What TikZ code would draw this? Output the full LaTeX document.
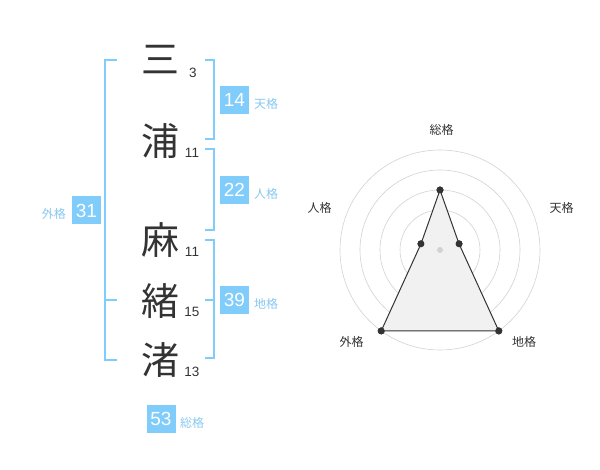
\documentclass[tikz,border=0pt]{standalone}
\usepackage{fontspec}
\setmainfont{Liberation Sans}
\newfontfamily\jpfont{Noto Sans CJK JP}
\definecolor{kakuBlue}{RGB}{128,204,250}
\definecolor{labelBlue}{RGB}{135,200,240}
\definecolor{darkGray}{RGB}{51,51,51}
\definecolor{ringGray}{RGB}{210,210,210}
\definecolor{fillGray}{RGB}{241,241,241}

\begin{document}
\begin{tikzpicture}[x=1pt,y=-1pt,
  kanji/.style={text=darkGray,inner sep=0,font=\jpfont\fontsize{38}{38}\selectfont},
  stroke/.style={text=darkGray,anchor=base,inner sep=0,font=\fontsize{13.5}{13.5}\selectfont},
  kakubox/.style={fill=kakuBlue,text=white,inner sep=0,minimum width=29pt,minimum height=28pt,font=\fontsize{19}{19}\selectfont},
  kakulabel/.style={text=labelBlue,inner sep=0,font=\jpfont\fontsize{12}{12}\selectfont},
  bracket/.style={draw=kakuBlue,line width=1.8pt},
  ring/.style={draw=ringGray,line width=0.6pt},
  dot/.style={circle,fill=darkGray,inner sep=0,minimum size=7pt},
  axislabel/.style={text=darkGray,inner sep=0,font=\jpfont\fontsize{12}{12}\selectfont}]
\useasboundingbox (0,0) rectangle (600,470);
% Name characters
\node[kanji] (c1) at (160,60) {三};
\node[kanji] (c2) at (160,141) {浦};
\node[kanji] (c3) at (160,240) {麻};
\node[kanji] (c4) at (160,301) {緒};
\node[kanji] (c5) at (160,360) {渚};
% Stroke counts
\node[stroke] (n1) at (193,78) {3};
\node[stroke] (n2) at (192,158) {11};
\node[stroke] (n3) at (192,257) {11};
\node[stroke] (n4) at (192,317) {15};
\node[stroke] (n5) at (192,377) {13};
% Brackets
\draw[bracket] (117,60) -- (105,60) -- (105,360) -- (117,360);
\draw[bracket] (105,300) -- (117,300);
\draw[bracket] (205,60) -- (214,60) -- (214,139) -- (205,139);
\draw[bracket] (205,149) -- (214,149) -- (214,230) -- (205,230);
\draw[bracket] (205,240) -- (214,240) -- (214,358) -- (205,358);
\draw[bracket] (205,300) -- (214,300);
% Fortune boxes
\node[kakubox] (ten) at (234.5,100) {14};
\node[kakulabel,anchor=west] at (254,103.5) {天格};
\node[kakubox] (jin) at (234.5,190) {22};
\node[kakulabel,anchor=west] at (254,193.5) {人格};
\node[kakubox] (gai) at (86.5,210.5) {31};
\node[kakulabel,anchor=east] at (66,213.5) {外格};
\node[kakubox] (chi) at (234.5,300) {39};
\node[kakulabel,anchor=west] at (254,303.5) {地格};
\node[kakubox] (sou) at (161,419) {53};
\node[kakulabel,anchor=west] at (180,422.5) {総格};
% Radar rings
\coordinate (ctr) at (440,250);
\foreach \r in {20,40,60,80,100}
  \draw[ring] (ctr) circle (\r pt);
% Radar values
\node[dot] (p1) at ([shift={(-90:60)}]ctr) {};
\node[dot] (p2) at ([shift={(-18:20)}]ctr) {};
\node[dot] (p3) at ([shift={(54:100)}]ctr) {};
\node[dot] (p4) at ([shift={(126:100)}]ctr) {};
\node[dot] (p5) at ([shift={(198:20)}]ctr) {};
\draw[darkGray,fill=fillGray,line width=1pt] (p1.center) -- (p2.center) -- (p3.center) -- (p4.center) -- (p5.center) -- cycle;
\foreach \p in {p1,p2,p3,p4,p5}
  \fill[darkGray] (\p) circle (3.5pt);
\fill[ringGray] (ctr) circle (3pt);
% Axis labels
\node[axislabel] at (441.5,130) {総格};
\node[axislabel] at (561.5,208) {天格};
\node[axislabel] at (524,341.5) {地格};
\node[axislabel] at (351.5,341.5) {外格};
\node[axislabel] at (319.5,208) {人格};
\end{tikzpicture}
\end{document}
